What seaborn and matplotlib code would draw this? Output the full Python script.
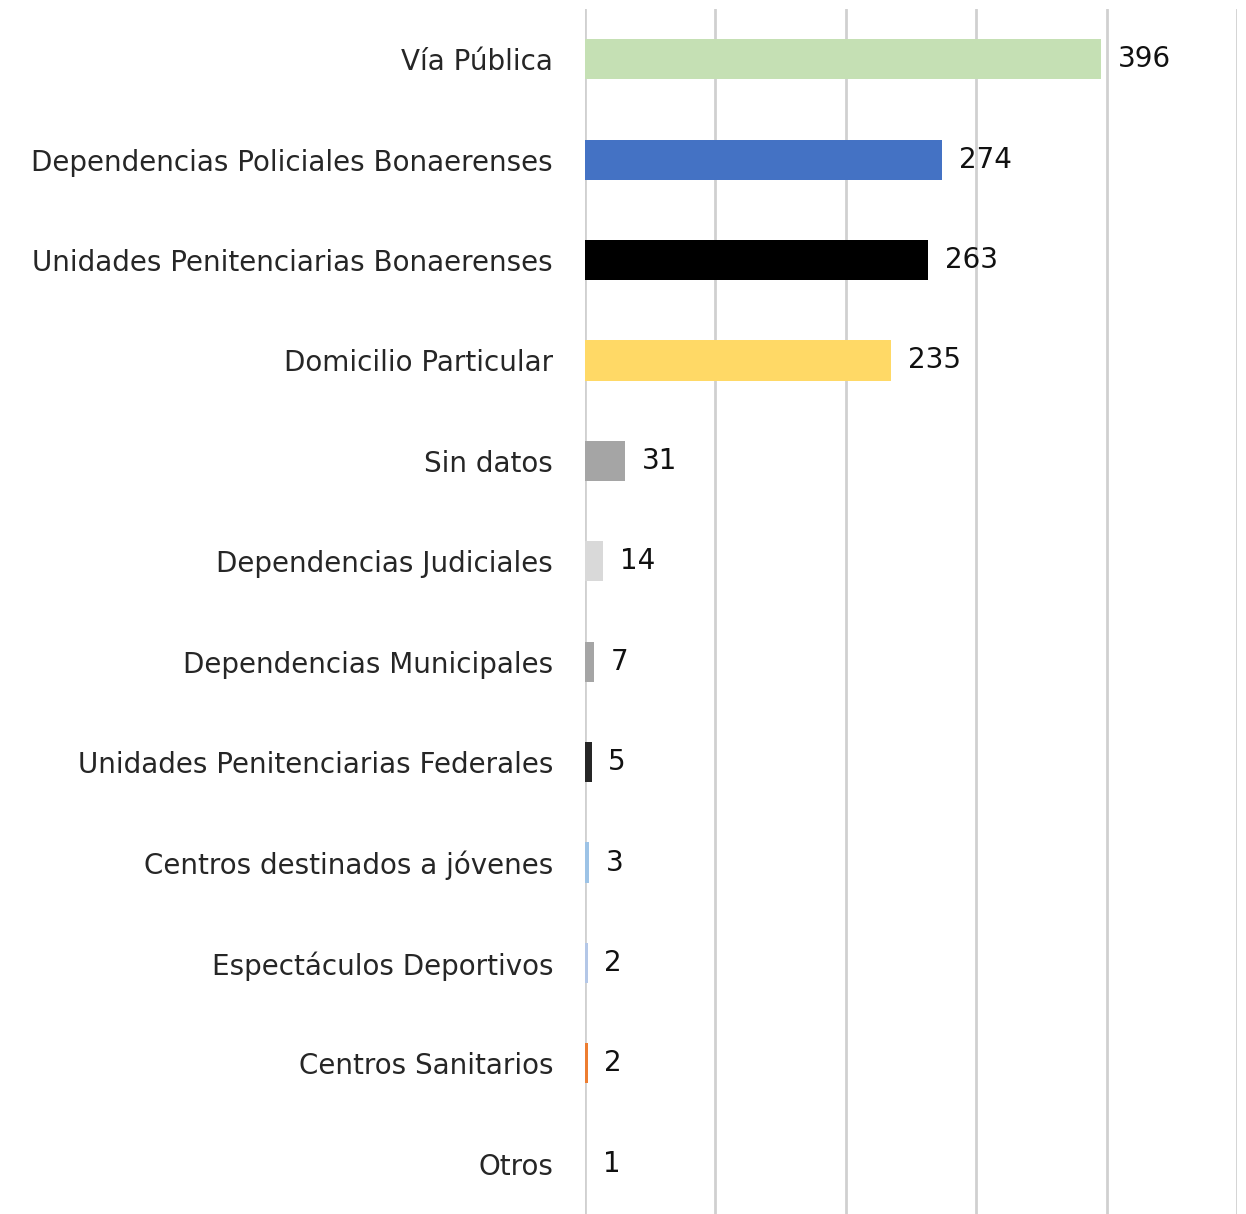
import matplotlib
matplotlib.use("Agg")
import matplotlib.pyplot as plt
import seaborn as sns
import pandas as pd

categories = [
    "Vía Pública",
    "Dependencias Policiales Bonaerenses",
    "Unidades Penitenciarias Bonaerenses",
    "Domicilio Particular",
    "Sin datos",
    "Dependencias Judiciales",
    "Dependencias Municipales",
    "Unidades Penitenciarias Federales",
    "Centros destinados a jóvenes",
    "Espectáculos Deportivos",
    "Centros Sanitarios",
    "Otros",
]
values = [396, 274, 263, 235, 31, 14, 7, 5, 3, 2, 2, 1]
colors = [
    "#C5E0B4", "#4472C4", "#000000", "#FFD966", "#A5A5A5", "#D9D9D9",
    "#A5A5A5", "#262626", "#9DC3E6", "#B4C7E7", "#ED7D31", "#D0D0D0",
]

df = pd.DataFrame({"cat": categories, "val": values})

sns.set_theme(style="white")
plt.rcParams['font.family'] = ['DejaVu Sans']

fig = plt.figure(figsize=(12.46, 12.14), dpi=100)
ax = fig.add_axes([585 / 1246, 0.0, (1237 - 585) / 1246, 1 - 9 / 1214])

sns.barplot(data=df, y="cat", x="val", hue="cat", palette=colors,
            order=categories, hue_order=categories, legend=False,
            width=0.4, ax=ax, saturation=1, linewidth=0, edgecolor="none")

ax.set_xlim(0, 500)
ax.set_ylim(len(categories) - 0.5, -0.5)
ax.set_xticks([0, 100, 200, 300, 400, 500])
ax.set_xticklabels([])
ax.tick_params(axis="x", length=0)
ax.tick_params(axis="y", length=0, pad=23, labelsize=20, labelcolor="#262626")
ax.xaxis.grid(True, color="#D0D0D0", linewidth=2)
ax.set_axisbelow(True)
for s in ax.spines.values():
    s.set_visible(False)
ax.set_xlabel("")
ax.set_ylabel("")

for cont in ax.containers:
    ax.bar_label(cont, padding=12, fontsize=20, color="#111111")

fig.savefig("out.png", dpi=100)
